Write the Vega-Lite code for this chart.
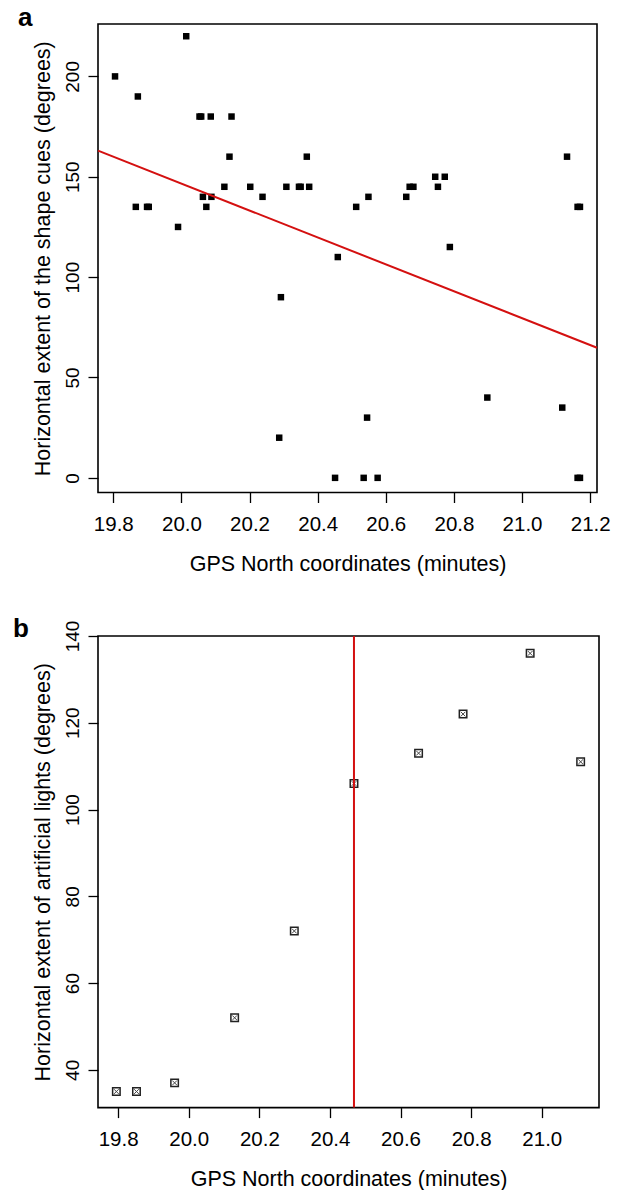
{
  "$schema": "https://vega.github.io/schema/vega-lite/v6.json",
  "background": "white",
  "padding": {"left": 12, "top": 4, "right": 10, "bottom": 5},
  "spacing": 143,
  "bounds": "flush",
  "config": {
    "font": "Liberation Sans",
    "view": {"stroke": "black", "strokeWidth": 1.6},
    "axis": {
      "domain": false, "grid": false, "ticks": true,
      "tickColor": "black", "tickWidth": 1.3, "tickSize": 10,
      "labelColor": "black", "labelFont": "Liberation Sans",
      "titleColor": "black", "titleFont": "Liberation Sans",
      "titleFontWeight": "normal", "titleFontSize": 21.5
    },
    "axisX": {"labelFontSize": 20.5, "labelPadding": 12, "titlePadding": 18, "labelFlush": false, "labelOverlap": false},
    "axisY": {"labelFontSize": 19, "labelAngle": 270, "labelAlign": "center", "labelBaseline": "alphabetic", "labelPadding": 10, "titlePadding": 9, "labelFlush": false, "labelOverlap": false}
  },
  "vconcat": [
    {
      "width": 499,
      "height": 468.5,
      "title": {"text": "a", "anchor": "start", "frame": "group", "fontSize": 26, "fontWeight": "bold", "color": "black", "baseline": "alphabetic", "offset": 0, "dx": -80, "dy": 28},
      "layer": [
        {
          "data": {"values": [
            {"gps": 19.805, "extent": 200}, {"gps": 19.866, "extent": 135}, {"gps": 19.872, "extent": 190},
            {"gps": 19.899, "extent": 135}, {"gps": 19.904, "extent": 135}, {"gps": 19.99, "extent": 125},
            {"gps": 20.014, "extent": 220}, {"gps": 20.053, "extent": 180}, {"gps": 20.058, "extent": 180},
            {"gps": 20.063, "extent": 140}, {"gps": 20.073, "extent": 135}, {"gps": 20.086, "extent": 180},
            {"gps": 20.088, "extent": 140}, {"gps": 20.126, "extent": 145}, {"gps": 20.141, "extent": 160},
            {"gps": 20.147, "extent": 180}, {"gps": 20.202, "extent": 145}, {"gps": 20.238, "extent": 140},
            {"gps": 20.287, "extent": 20}, {"gps": 20.292, "extent": 90}, {"gps": 20.308, "extent": 145},
            {"gps": 20.345, "extent": 145}, {"gps": 20.35, "extent": 145}, {"gps": 20.368, "extent": 160},
            {"gps": 20.375, "extent": 145}, {"gps": 20.451, "extent": 0}, {"gps": 20.459, "extent": 110},
            {"gps": 20.513, "extent": 135}, {"gps": 20.535, "extent": 0}, {"gps": 20.545, "extent": 30},
            {"gps": 20.549, "extent": 140}, {"gps": 20.576, "extent": 0}, {"gps": 20.66, "extent": 140},
            {"gps": 20.67, "extent": 145}, {"gps": 20.681, "extent": 145}, {"gps": 20.745, "extent": 150},
            {"gps": 20.753, "extent": 145}, {"gps": 20.773, "extent": 150}, {"gps": 20.788, "extent": 115},
            {"gps": 20.898, "extent": 40}, {"gps": 21.118, "extent": 35}, {"gps": 21.132, "extent": 160},
            {"gps": 21.163, "extent": 135}, {"gps": 21.17, "extent": 135}, {"gps": 21.163, "extent": 0},
            {"gps": 21.17, "extent": 0}
          ]},
          "mark": {"type": "square", "filled": true, "color": "black", "opacity": 1, "size": 42},
          "encoding": {
            "x": {"field": "gps", "type": "quantitative",
                  "scale": {"domain": [19.755, 21.22], "nice": false, "zero": false},
                  "axis": {"values": [19.8, 20.0, 20.2, 20.4, 20.6, 20.8, 21.0, 21.2], "format": ".1f", "title": "GPS North coordinates (minutes)"}},
            "y": {"field": "extent", "type": "quantitative",
                  "scale": {"domain": [-7.3, 226.1], "nice": false, "zero": false},
                  "axis": {"values": [0, 50, 100, 150, 200], "title": "Horizontal extent of the shape cues (degrees)"}}
          }
        },
        {
          "data": {"values": [{"gps": 19.755, "fit": 163}, {"gps": 21.22, "fit": 64.8}]},
          "mark": {"type": "line", "color": "#d41010", "strokeWidth": 2},
          "encoding": {
            "x": {"field": "gps", "type": "quantitative"},
            "y": {"field": "fit", "type": "quantitative"}
          }
        }
      ]
    },
    {
      "width": 501,
      "height": 471.6,
      "title": {"text": "b", "anchor": "start", "frame": "group", "fontSize": 26, "fontWeight": "bold", "color": "black", "baseline": "alphabetic", "offset": 0, "dx": -85, "dy": 43},
      "layer": [
        {
          "data": {"name": "lights", "values": [
            {"gps": 19.795, "extent": 35}, {"gps": 19.852, "extent": 35}, {"gps": 19.96, "extent": 37},
            {"gps": 20.13, "extent": 52}, {"gps": 20.299, "extent": 72}, {"gps": 20.468, "extent": 106},
            {"gps": 20.651, "extent": 113}, {"gps": 20.777, "extent": 122}, {"gps": 20.967, "extent": 136},
            {"gps": 21.11, "extent": 111}
          ]},
          "mark": {"type": "square", "filled": true, "fill": "white", "stroke": "#222222", "strokeWidth": 1.5, "opacity": 1, "size": 56},
          "encoding": {
            "x": {"field": "gps", "type": "quantitative",
                  "scale": {"domain": [19.743, 21.162], "nice": false, "zero": false},
                  "axis": {"values": [19.8, 20.0, 20.2, 20.4, 20.6, 20.8, 21.0], "format": ".1f", "title": "GPS North coordinates (minutes)"}},
            "y": {"field": "extent", "type": "quantitative",
                  "scale": {"domain": [31.3, 140], "nice": false, "zero": false},
                  "axis": {"values": [40, 60, 80, 100, 120, 140], "title": "Horizontal extent of artificial lights (degrees)"}}
          }
        },
        {
          "data": {"name": "lights2", "values": [
            {"gps": 19.795, "extent": 35}, {"gps": 19.852, "extent": 35}, {"gps": 19.96, "extent": 37},
            {"gps": 20.13, "extent": 52}, {"gps": 20.299, "extent": 72}, {"gps": 20.468, "extent": 106},
            {"gps": 20.651, "extent": 113}, {"gps": 20.777, "extent": 122}, {"gps": 20.967, "extent": 136},
            {"gps": 21.11, "extent": 111}
          ]},
          "mark": {"type": "point", "shape": "M-1,-1L1,1M1,-1L-1,1", "filled": false, "stroke": "#444444", "strokeWidth": 1, "opacity": 1, "size": 22},
          "encoding": {
            "x": {"field": "gps", "type": "quantitative"},
            "y": {"field": "extent", "type": "quantitative"}
          }
        },
        {
          "data": {"values": [{"split": 20.468}]},
          "mark": {"type": "rule", "color": "#d41010", "strokeWidth": 2},
          "encoding": {
            "x": {"field": "split", "type": "quantitative"}
          }
        }
      ]
    }
  ]
}
